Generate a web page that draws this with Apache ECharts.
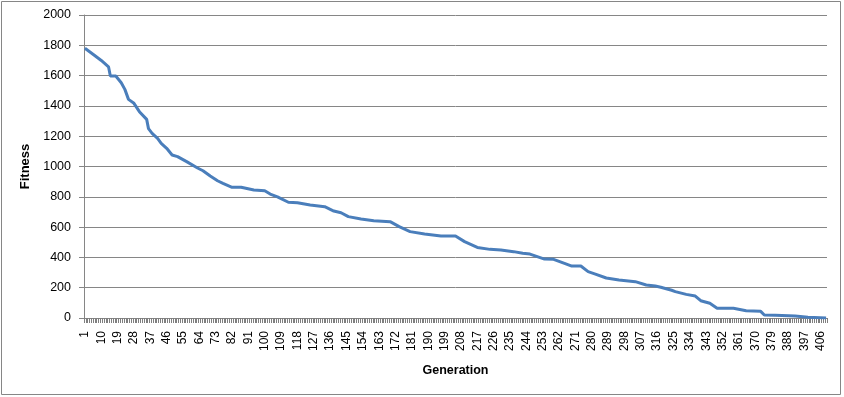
<!DOCTYPE html>
<html>
<head>
<meta charset="utf-8">
<title>Fitness by generation</title>
<script src="https://cdn.jsdelivr.net/npm/echarts@6/dist/echarts.min.js"></script>
<style>
  html, body { margin: 0; padding: 0; background: #fff; }
  #chart { width: 844px; height: 397px; }
</style>
</head>
<body>
<div id="chart"></div>
<script>
// number of generations on the x axis
var genCount = 409;
// generations (break points)
var genPoints = [1, 6, 10, 14, 15, 18, 21, 22, 23, 24, 25, 28, 31, 35, 36, 38, 41, 43, 46, 49,
  52, 57, 63, 66, 70, 74, 77, 82, 87, 94, 100, 103, 107, 113, 118, 125, 133, 138, 142, 146,
  153, 160, 169, 174, 180, 188, 197, 205, 210, 217, 224, 230, 237, 242, 246, 254, 259, 265, 269, 274,
  278, 282, 288, 295, 304, 310, 315, 318, 324, 326, 332, 337, 340, 345, 349, 358, 365, 373, 375, 381,
  392, 399, 409];
// fitness at those generations
var fitness = [1780, 1736, 1700, 1658, 1597, 1597, 1553, 1550, 1509, 1509, 1443, 1417, 1362, 1311, 1250, 1219, 1186, 1153, 1120, 1076,
  1065, 1032, 990, 972, 937, 906, 889, 863, 863, 845, 840, 818, 800, 764, 761, 746, 735, 706, 695, 669,
  653, 642, 636, 603, 570, 554, 541, 541, 504, 466, 453, 449, 438, 427, 422, 389, 387, 361, 343, 343,
  306, 290, 264, 251, 240, 218, 211, 203, 183, 174, 156, 145, 114, 97, 64, 64, 48, 44, 20, 18,
  13, 5, 0];
var yTicks = { min: 0, max: 2000, step: 200 };

var generations = [];
for (var i = 1; i <= genCount; i++) generations.push(String(i));

var seriesData = genPoints.map(function (g, k) {
  return [String(g), fitness[k]];
});

var chart = echarts.init(document.getElementById('chart'));
var option = {
  animation: false,
  backgroundColor: '#fff',
  textStyle: { fontFamily: 'Liberation Sans, Arial, sans-serif' },
  graphic: [{
    type: 'rect',
    shape: { x: 1.5, y: 1.5, width: 839, height: 393 },
    style: { fill: 'none', stroke: '#868686', lineWidth: 1 },
    silent: true
  }],
  grid: { left: 84, right: 17, top: 15, bottom: 79 },
  xAxis: {
    type: 'category',
    data: generations,
    boundaryGap: true,
    name: 'Generation',
    nameLocation: 'middle',
    nameGap: 46,
    nameTextStyle: { color: '#000', fontSize: 12.5, fontWeight: 'bold' },
    axisLine: { show: true, lineStyle: { color: '#868686', width: 1 } },
    axisTick: {
      show: true,
      interval: 0,
      alignWithLabel: false,
      inside: false,
      length: 5,
      lineStyle: { color: '#7f7f7f', width: 1 }
    },
    axisLabel: {
      interval: 8,
      rotate: 90,
      color: '#000',
      fontSize: 12,
      margin: 13,
      hideOverlap: false
    },
    splitLine: { show: false }
  },
  yAxis: {
    type: 'value',
    min: yTicks.min,
    max: yTicks.max,
    interval: yTicks.step,
    name: 'Fitness',
    nameLocation: 'middle',
    nameRotate: 90,
    nameGap: 51,
    nameTextStyle: { color: '#000', fontSize: 13, fontWeight: 'bold' },
    axisLine: { show: true, lineStyle: { color: '#868686', width: 1 } },
    axisTick: { show: true, length: 5, lineStyle: { color: '#868686' } },
    axisLabel: {
      color: '#000',
      fontSize: 12.5,
      margin: 13,
      formatter: function (v) { return String(v); }
    },
    splitLine: { show: true, lineStyle: { color: '#868686', width: 1 } }
  },
  series: [{
    name: 'Fitness',
    type: 'line',
    data: seriesData,
    showSymbol: false,
    smooth: false,
    lineStyle: { color: '#4A7EBB', width: 3 },
    itemStyle: { color: '#4A7EBB' }
  }]
};
chart.setOption(option);
</script>
</body>
</html>
